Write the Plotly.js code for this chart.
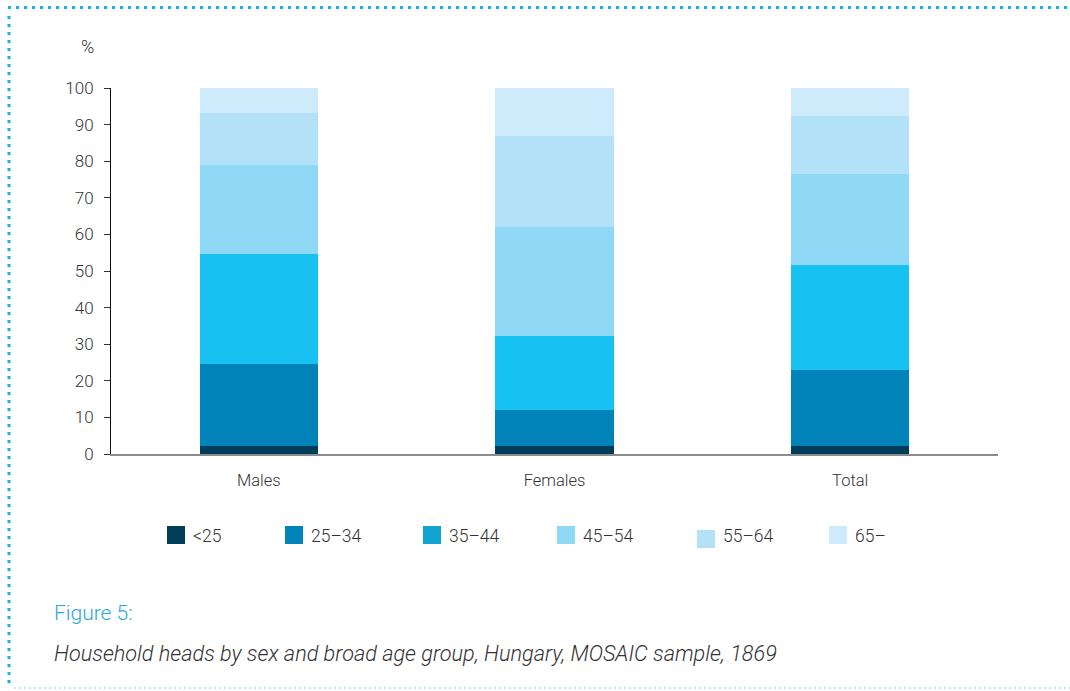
<!DOCTYPE html>
<html>
<head>
<meta charset="utf-8">
<script src="https://cdn.plot.ly/plotly-3.0.1.min.js"></script>
<style>html,body{margin:0;padding:0;background:#fff;}#chart{width:1070px;height:691px;}</style>
</head>
<body>
<div id="chart"></div>
<script>
// Data
const categories = ["Males", "Females", "Total"];
const ageGroups = ["<25", "25\u201334", "35\u201344", "45\u201354", "55\u201364", "65\u2013"];
const under25 = [2.3, 2.3, 2.3];
const age25_34 = [22.3, 9.8, 20.7];
const age35_44 = [30.1, 20.1, 28.6];
const age45_54 = [24.3, 29.9, 25.0];
const age55_64 = [14.1, 24.9, 15.8];
const age65plus = [6.9, 13.0, 7.6];
const yTicks = [0, 10, 20, 30, 40, 50, 60, 70, 80, 90, 100];

const seriesValues = [under25, age25_34, age35_44, age45_54, age55_64, age65plus];
const barColors = ["#003d58", "#0083b8", "#17c1f2", "#8fd8f6", "#b3e2f8", "#cdebfb"];
const legendColors = ["#003d58", "#0083b8", "#11a3cf", "#8fd8f6", "#b3e2f8", "#cdebfb"];

const FONT = "Roboto, 'Noto Sans', sans-serif";

const traces = seriesValues.map((vals, i) => ({
  type: "bar",
  name: ageGroups[i],
  x: categories,
  y: vals,
  width: 0.4,
  marker: {color: barColors[i], line: {width: 0}},
  showlegend: false,
  hoverinfo: "skip"
}));

// pixel -> paper helpers (plot area: x 111..998, y 88..454)
function px(x) { return (x - 111) / 887; }
function py(y) { return (454 - y) / 366; }

// Manual legend (swatches + labels)
const shapes = [];
const annotations = [];
const legendX = [167, 285, 423, 557, 697, 829];
const legendY = 535;
ageGroups.forEach((g, i) => {
  const dy = (i === 4) ? 4 : 0;
  shapes.push({type: "rect", xref: "paper", yref: "paper",
    x0: px(legendX[i]), x1: px(legendX[i] + 18),
    y0: py(legendY + 9 + dy), y1: py(legendY - 9 + dy),
    fillcolor: legendColors[i], line: {width: 0}});
  annotations.push({xref: "paper", yref: "paper",
    x: px(legendX[i] + 24), y: py(legendY + 1),
    xanchor: "left", yanchor: "middle", text: g, showarrow: false,
    font: {family: FONT, size: 17.5, color: "#333", weight: 300}});
});

// Frame dotted borders
shapes.push({type: "line", xref: "paper", yref: "paper", x0: px(8), x1: px(1070), y0: py(7.5), y1: py(7.5),
  line: {color: "#18b1ea", width: 3, dash: "3px,5px"}});
shapes.push({type: "line", xref: "paper", yref: "paper", x0: px(9), x1: px(9), y0: py(16), y1: py(688),
  line: {color: "#18b1ea", width: 3, dash: "3px,5px"}});
shapes.push({type: "line", xref: "paper", yref: "paper", x0: px(14), x1: px(1070), y0: py(688), y1: py(688),
  line: {color: "#a8e3f7", width: 1.5, dash: "2px,3px"}});

annotations.push({xref: "paper", yref: "paper", x: px(79), y: py(47), xanchor: "left", yanchor: "middle",
  text: "%", showarrow: false, font: {family: FONT, size: 18, color: "#333", weight: 300}});
annotations.push({xref: "paper", yref: "paper", x: px(52), y: py(613), xanchor: "left", yanchor: "middle",
  text: "Figure 5:", showarrow: false, font: {family: FONT, size: 21, color: "#2aa9de", weight: 300}});
annotations.push({xref: "paper", yref: "paper", x: px(52), y: py(653), xanchor: "left", yanchor: "middle",
  text: "<i>Household heads by sex and broad age group, Hungary, MOSAIC sample, 1869</i>", showarrow: false,
  font: {family: FONT, size: 21.7, color: "#333", weight: 300}});

const layout = {
  width: 1070, height: 691,
  margin: {l: 111, r: 72, t: 88, b: 237, pad: 0},
  paper_bgcolor: "#fff", plot_bgcolor: "#fff",
  barmode: "stack",
  bargap: 0,
  showlegend: false,
  font: {family: FONT, color: "#333"},
  xaxis: {
    type: "category", range: [-0.5, 2.5],
    showline: true, linecolor: "#8c8c8c", linewidth: 2,
    ticks: "", showgrid: false, zeroline: false,
    ticklabelstandoff: 10,
    tickfont: {family: FONT, size: 16.5, color: "#333", weight: 300},
    fixedrange: true
  },
  yaxis: {
    range: [0, 100], tickvals: yTicks, ticktext: yTicks.map(String),
    showline: true, linecolor: "#111", linewidth: 1,
    ticks: "outside", ticklen: 6, tickcolor: "#333", tickwidth: 1,
    showgrid: false, zeroline: false,
    ticklabelstandoff: 7,
    tickfont: {family: FONT, size: 17, color: "#333", weight: 300},
    fixedrange: true
  },
  shapes: shapes,
  annotations: annotations
};

Plotly.newPlot("chart", traces, layout, {displayModeBar: false, staticPlot: true});
</script>
</body>
</html>
